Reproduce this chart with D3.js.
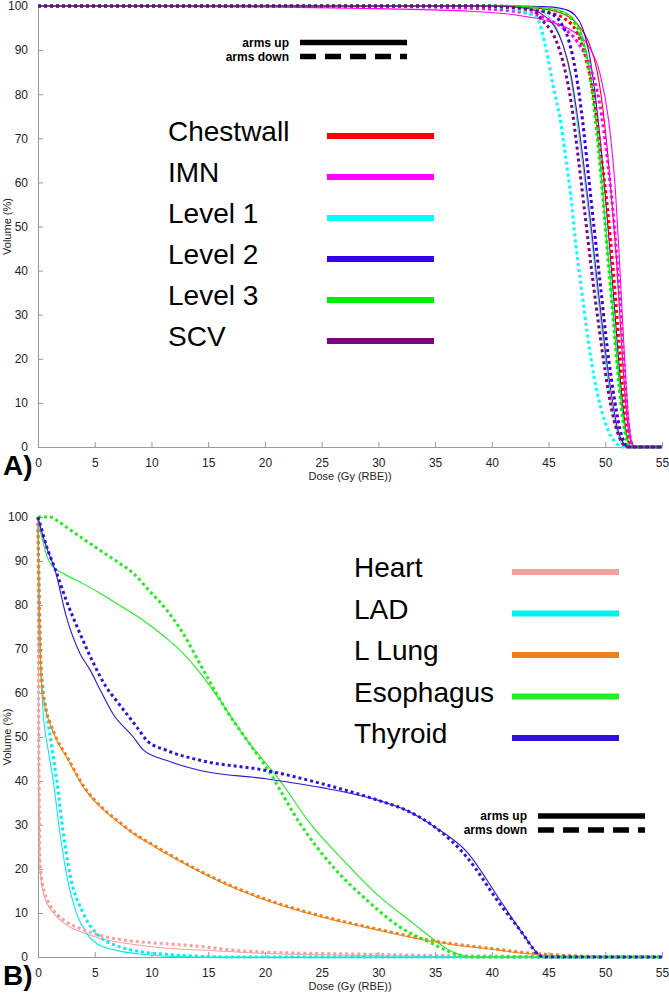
<!DOCTYPE html>
<html><head><meta charset="utf-8">
<script src="https://cdn.jsdelivr.net/npm/d3@7"></script>
<style>body{margin:0;background:#fff}svg{display:block}</style>
</head><body><svg id="c" width="669" height="994"></svg>
<script>
// ---------- DATA (dose Gy(RBE), volume %) ----------
const xTicks = [0,5,10,15,20,25,30,35,40,45,50,55];
const yTicks = [0,10,20,30,40,50,60,70,80,90,100];

// Panel A
const chestwallUp   = [[0,100],[40,100],[44,99.5],[46,98.5],[47.5,96],[48.5,92],[49.3,85],[50,72],[50.5,58],[51,42],[51.4,25],[51.8,10],[52.1,3],[52.4,0.5],[52.7,0],[55,0]];
const chestwallDown = [[0,100],[38,100],[42,99.5],[45,98.5],[46.5,97],[47.5,94],[48.3,88],[49,79],[49.6,67],[50.2,54],[50.7,40],[51.2,24],[51.6,11],[52,3],[52.3,0.5],[52.6,0],[55,0]];
const imnUp         = [[0,100],[20,99.8],[30,99.4],[38,98.8],[42,98],[45,96.5],[47,94.5],[48.5,91],[49.5,85],[50.3,74],[50.9,58],[51.3,40],[51.7,20],[52,8],[52.3,1.5],[52.6,0],[55,0]];
const imnDown       = [[0,100],[30,99.9],[38,99.5],[42,98.8],[44.5,97.5],[46,95.5],[47.5,92],[48.7,86],[49.5,78],[50.2,65],[50.8,50],[51.3,33],[51.7,17],[52,6],[52.3,1],[52.6,0],[55,0]];
const level1Up      = [[0,100],[40,100],[43,99.5],[44.5,98.5],[45.5,96],[46.3,91],[47,83],[47.6,72],[48.2,60],[48.8,47],[49.4,33],[50,20],[50.6,9],[51.1,3],[51.5,0.5],[52,0],[55,0]];
const level1Down    = [[0,100],[38,100],[41,99.6],[43,98.5],[44,97.2],[44.8,90],[45.4,82],[46,74.7],[46.5,66],[47,56],[47.4,46],[47.9,36],[48.4,26],[49,16],[49.6,9],[50.3,3.5],[51,0.8],[51.6,0],[55,0]];
const level2Up      = [[0,100],[42,100],[45,99.8],[46.5,99.2],[47.3,98],[48,95],[48.6,89],[49.2,78],[49.8,63],[50.3,48],[50.8,32],[51.3,16],[51.7,6],[52,1.5],[52.3,0],[55,0]];
const level2Down    = [[0,100],[40,100],[43,99.5],[45,98.5],[46,96.5],[46.8,92],[47.4,85],[48,74],[48.5,62],[49,50],[49.6,36],[50.2,22],[50.8,11],[51.3,4],[51.8,0.5],[52.1,0],[55,0]];
const level3Up      = [[0,100],[40,100],[44,99.7],[46,99],[47.2,97],[48,93],[48.6,86],[49.1,76],[49.6,63],[50.1,48],[50.6,33],[51.1,18],[51.6,6],[52,1],[52.3,0],[55,0]];
const level3Down    = [[0,100],[40,100],[44,99.5],[46,98.7],[47.2,96.5],[48,92],[48.6,85],[49.1,75],[49.6,62],[50,50],[50.5,35],[51,20],[51.5,7],[51.9,1.5],[52.2,0],[55,0]];
const scvUp         = [[0,100],[40,100],[43,99.5],[44.5,98],[45.5,95.5],[46.3,91],[47,84],[47.6,74],[48.2,62],[48.8,49],[49.4,35],[50,22],[50.6,11],[51.1,4],[51.6,0.8],[52,0],[55,0]];
const scvDown       = [[0,100],[38,100],[42,99.6],[43.6,99],[44.5,96.6],[45.4,93.6],[46,89.8],[46.4,86],[47,78],[47.6,66],[48.2,53],[48.8,40],[49.4,28],[50,17],[50.6,8],[51.2,2.5],[51.7,0.3],[52,0],[55,0]];

const namesA  = ["Chestwall","IMN","Level 1","Level 2","Level 3","SCV"];
const colorsA = ["#ff0000","#ff00ff","#00ffff","#3300ee","#00ee00","#820082"];
const upA     = [chestwallUp,imnUp,level1Up,level2Up,level3Up,scvUp];
const downA   = [chestwallDown,imnDown,level1Down,level2Down,level3Down,scvDown];

// Panel B
const heartUp     = [[0,100],[0.05,55],[0.1,35],[0.17,21],[0.3,17],[0.6,13.5],[1.06,11],[1.7,9],[2.5,7.3],[4,5.5],[5.5,4.2],[8,3],[11.3,2],[14.3,1.6],[20,0.8],[25,0.5],[30,0.3],[35,0.15],[40,0.05],[42,0],[55,0]];
const heartDown   = [[0,100],[0.05,60],[0.1,38],[0.17,22],[0.3,18],[0.6,14.5],[1.06,11.8],[1.7,9.6],[2.5,8],[4,6.2],[5.5,4.9],[8,3.7],[11.3,3],[14.3,2.4],[17,1.6],[20,1.1],[25,0.8],[30,0.6],[35,0.35],[40,0.2],[44,0.05],[46,0],[55,0]];
const ladUp       = [[0,100],[0.1,80],[0.2,68],[0.3,62],[0.47,55],[0.9,47],[1.35,40],[1.9,28.8],[2.5,19],[3.4,9.9],[4.3,5.3],[5.2,3],[6.9,1.5],[9.6,0.5],[12,0.1],[14,0],[55,0]];
const ladDown     = [[0,100],[0.1,82],[0.2,70],[0.4,62],[0.77,55.4],[1.2,48],[1.65,40.2],[2.2,28.8],[2.8,19],[4,9.9],[5.5,4.5],[7,2.5],[8.4,1.5],[11.3,0.6],[14,0.2],[17,0],[55,0]];
const lungUp      = [[0,100],[0.1,82],[0.2,70],[0.3,63],[0.6,57],[1.06,53],[1.7,49],[2.5,45.5],[4,38.6],[5.5,34.1],[7,30.8],[8.4,28],[10,25.5],[11.3,23.5],[14.3,19.3],[17,16],[20.1,12.9],[25,9.1],[30,6.1],[35,3.4],[40.7,1.5],[42.5,0.9],[44.8,0.4],[47,0.1],[48.5,0],[55,0]];
const lungDown    = [[0,100],[0.1,83],[0.2,71],[0.3,64],[0.6,57.5],[1.06,53.3],[1.7,49.3],[2.5,45.8],[4,38.9],[5.5,34.3],[7,31],[8.4,28.2],[10,25.7],[11.3,23.7],[14.3,19.5],[17,16.2],[20.1,13.1],[25,9.3],[30,6.3],[35,3.6],[40.7,1.7],[42.5,1.1],[44.8,0.6],[47,0.3],[49,0.1],[50,0],[55,0]];
const esophUp     = [[0,100],[0.2,97],[0.47,94],[0.8,91],[1.2,89],[2.2,87.2],[4,84.8],[5.5,82.6],[7.2,79.9],[9,77],[11.3,72.5],[12.8,69],[14.3,64.5],[16,58.5],[18.5,49],[21.3,40.2],[24,30.3],[26.9,22],[29.8,14.4],[33.1,7.6],[35.4,3],[36.5,1.2],[37.5,0.3],[38.5,0],[55,0]];
const esophDown   = [[0,100],[1.05,100],[1.8,99],[2.5,97.7],[4,95],[5.5,92.4],[7,89.8],[8.4,87.2],[9.9,83],[11.3,79],[12.8,73.5],[14.3,66.5],[15.7,60],[16.5,56.5],[18.5,49],[20.3,42.4],[23.1,30.3],[26,20.5],[29,12.9],[31.9,6.8],[34.8,3],[36,1.5],[37.2,0.4],[38,0],[55,0]];
const thyroidUp   = [[0,100],[0.4,96],[0.77,93],[1.5,88],[2.5,77.3],[3.7,69],[4.6,65.2],[5.5,60.6],[6.6,55.3],[8.4,50],[9.3,47],[11.3,44.7],[14.3,42.4],[20.1,40.5],[25,38.5],[30,35.6],[32.5,33.3],[35,29.5],[37.8,23.9],[40.7,13],[42.5,6.1],[43.5,2.5],[44.2,0.4],[44.5,0],[55,0]];
const thyroidDown = [[0,100],[0.4,96.5],[0.77,93.2],[1.5,88.3],[2.5,81],[3.7,73.5],[4.9,66.7],[6,61.4],[6.9,58.3],[8.7,52.3],[9.6,49.2],[11.3,47],[14.3,44.7],[20.1,42.4],[25,39.4],[30,35.6],[32.5,33.3],[35,29.5],[37.8,22.7],[40.7,12.1],[42.5,6.1],[44.2,0.4],[44.5,0],[55,0]];

const namesB  = ["Heart","LAD","L Lung","Esophagus","Thyroid"];
const colorsB = ["#f4a09c","#00f0f0","#ef7f1a","#22ee22","#3311dd"];
const upB     = [heartUp,ladUp,lungUp,esophUp,thyroidUp];
const downB   = [heartDown,ladDown,lungDown,esophDown,thyroidDown];

const armsLabels = ["arms up","arms down"];

// ---------- DRAW ----------
const svg = d3.select("#c");
const FONT = "'Liberation Sans', Arial, Helvetica, sans-serif";
svg.append("rect").attr("width",669).attr("height",994).attr("fill","#fff");

const x = d3.scaleLinear().domain([0,55]).range([38,662]);

function panel(cfg){
  const y = d3.scaleLinear().domain([0,100]).range([cfg.y0, cfg.y1]);
  const g = svg.append("g");
  const clipId = "clip"+cfg.id;
  svg.append("clipPath").attr("id",clipId).append("rect")
    .attr("x",36).attr("y",cfg.y1-3).attr("width",629).attr("height",cfg.y0-cfg.y1+5);

  const xa = g.append("g").attr("transform",`translate(0,${cfg.y0})`)
    .call(d3.axisBottom(x).tickValues(xTicks).tickSizeInner(-5).tickSizeOuter(0).tickPadding(11).tickFormat(d3.format("d")));
  const ya = g.append("g").attr("transform","translate(38,0)")
    .call(d3.axisLeft(y).tickValues(yTicks).tickSizeInner(-5).tickSizeOuter(0).tickPadding(10).tickFormat(d3.format("d")));
  [xa,ya].forEach(a=>{
    a.select(".domain").attr("stroke","#999").attr("stroke-width",1);
    a.selectAll(".tick line").attr("stroke","#999");
    a.selectAll(".tick text").attr("fill","#222").attr("font-size",12).attr("font-family",FONT);
  });

  g.append("text").attr("x",350).attr("y",cfg.y0+33).attr("text-anchor","middle")
    .attr("font-size",11).attr("font-family",FONT).attr("fill","#222").text("Dose (Gy (RBE))");
  g.append("text").attr("transform",`translate(10.5,${(cfg.y0+cfg.y1)/2}) rotate(-90)`)
    .attr("text-anchor","middle").attr("font-size",11).attr("font-family",FONT).attr("fill","#222").text("Volume (%)");
  g.append("text").attr("x",3).attr("y",cfg.y0+28).attr("font-size",28).attr("font-weight","bold")
    .attr("font-family",FONT).attr("fill","#000").text(cfg.tag);

  const line = d3.line().x(d=>x(d[0])).y(d=>y(d[1])).curve(d3.curveMonotoneX);
  const cg = g.append("g").attr("clip-path",`url(#${clipId})`);
  cfg.up.forEach((s,i)=>{
    cg.append("path").attr("d",line(s)).attr("fill","none").attr("stroke",cfg.colors[i]).attr("stroke-width",1.1);
  });
  cfg.down.forEach((s,i)=>{
    cg.append("path").attr("d",line(s)).attr("fill","none").attr("stroke",cfg.colors[i])
      .attr("stroke-width",3).attr("stroke-dasharray","3,3");
  });

  const al = cfg.arms;
  armsLabels.forEach((t,i)=>{
    const yy = al.y + i*14;
    g.append("text").attr("x",al.x-11).attr("y",yy+4).attr("text-anchor","end")
      .attr("font-size",12).attr("font-weight","bold").attr("font-family",FONT).attr("fill","#000").text(t);
    g.append("line").attr("x1",al.x).attr("x2",al.x+107).attr("y1",yy).attr("y2",yy)
      .attr("stroke","#000").attr("stroke-width",5.5).attr("stroke-dasharray", i? "16,9" : null);
  });

  const sl = cfg.leg;
  cfg.names.forEach((n,i)=>{
    const by = sl.y + i*sl.dy;
    g.append("text").attr("x",sl.tx).attr("y",by).attr("font-size",28)
      .attr("font-family",FONT).attr("fill","#000").text(n);
    g.append("line").attr("x1",sl.lx).attr("x2",sl.lx+107).attr("y1",by-5).attr("y2",by-5)
      .attr("stroke",cfg.colors[i]).attr("stroke-width",6);
  });
}

panel({id:"A", y0:447, y1:6, tag:"A)", up:upA, down:downA, colors:colorsA, names:namesA,
  arms:{x:300,y:42.5}, leg:{tx:168,lx:327,y:141,dy:41}});
panel({id:"B", y0:957, y1:517, tag:"B)", up:upB, down:downB, colors:colorsB, names:namesB,
  arms:{x:538,y:816}, leg:{tx:354,lx:512,y:577,dy:41.5}});
</script></body></html>
